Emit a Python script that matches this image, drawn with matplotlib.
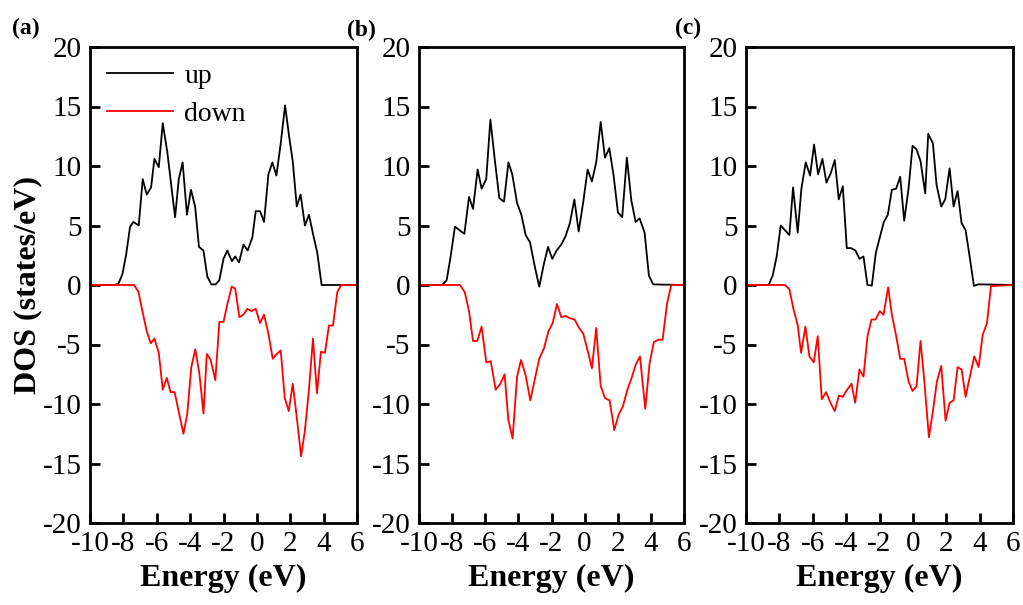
import numpy as np
import matplotlib
matplotlib.use('Agg')
import matplotlib.pyplot as plt

plt.rcParams['font.family'] = 'Liberation Serif'
plt.rcParams['axes.unicode_minus'] = False

# (a) spin up / spin down
a_up_x = [-10, -8.5, -8.3, -8.06, -7.84, -7.6, -7.4, -7.08, -6.84, -6.6, -6.34, -6.14, -5.88, -5.64,
          -5.36, -5.1, -4.9, -4.68, -4.45, -4.19, -3.95, -3.7, -3.47, -3.2, -2.97, -2.73, -2.47,
          -2.25, -2.0, -1.77, -1.5, -1.3, -1.07, -0.8, -0.55, -0.27, -0.07, 0.19, 0.43, 0.69, 0.93,
          1.17, 1.43, 1.69, 1.93, 2.15, 2.39, 2.62, 2.88, 3.12, 3.38, 3.62, 3.88, 6]
a_up_y = [0, 0, 0.1, 0.9, 2.5, 4.9, 5.3, 5.0, 8.9, 7.6, 8.2, 10.6, 9.9, 13.6,
          11.1, 8.0, 5.7, 8.9, 10.3, 5.9, 8.0, 6.6, 3.2, 2.9, 0.7, 0.05, 0.05,
          0.4, 2.2, 2.9, 2.0, 2.4, 1.9, 3.4, 2.9, 4.0, 6.2, 6.2, 5.3, 9.3, 10.3,
          9.2, 11.9, 15.1, 12.5, 10.4, 6.6, 7.6, 5.0, 5.9, 4.2, 2.7, 0.0, 0]
a_dn_x = [-10, -7.36, -7.1, -6.86, -6.6, -6.36, -6.14, -5.88, -5.64, -5.4, -5.17, -4.93, -4.69, -4.4,
          -4.17, -3.93, -3.69, -3.45, -3.2, -3.0, -2.77, -2.49, -2.25, -2.0, -1.75, -1.51, -1.3,
          -1.05, -0.81, -0.57, -0.33, -0.07, 0.19, 0.43, 0.69, 0.95, 1.19, 1.43, 1.67, 1.91, 2.15,
          2.39, 2.65, 2.88, 3.12, 3.36, 3.6, 3.84, 4.08, 4.32, 4.56, 4.82, 5.06, 6]
a_dn_y = [0, 0, -0.56, -2.2, -3.9, -4.9, -4.5, -5.7, -8.8, -7.8, -9.0, -9.0, -10.6, -12.5,
          -10.8, -6.9, -5.4, -7.4, -10.8, -5.8, -6.3, -8.0, -3.1, -3.1, -1.5, -0.14, -0.3,
          -2.7, -2.5, -2.0, -2.2, -2.0, -3.2, -2.5, -4.1, -6.2, -5.8, -5.5, -9.5, -10.6, -8.3,
          -11.1, -14.4, -12.2, -8.8, -4.5, -9.1, -5.6, -5.7, -3.4, -3.4, -0.6, 0, 0]

# (b)
b_up_x = [-10, -8.6, -8.33, -8.09, -7.83, -7.55, -7.26, -6.98, -6.74, -6.46, -6.22, -5.94, -5.69,
          -5.43, -5.15, -4.87, -4.6, -4.37, -4.08, -3.82, -3.56, -3.3, -3.0, -2.74, -2.47, -2.21,
          -1.95, -1.69, -1.41, -1.15, -0.89, -0.62, -0.36, -0.08, 0.18, 0.44, 0.7, 0.97, 1.23,
          1.49, 1.75, 2.01, 2.27, 2.55, 2.82, 3.08, 3.32, 3.62, 3.88, 4.14, 6]
b_up_y = [0, 0, 0.4, 2.4, 4.9, 4.6, 4.3, 7.4, 6.4, 9.7, 8.1, 8.9, 13.9,
          10.6, 7.3, 7.0, 10.3, 9.3, 6.9, 5.9, 4.2, 3.6, 1.5, -0.14, 1.7, 3.2,
          2.2, 2.9, 3.4, 4.1, 5.2, 7.2, 4.5, 7.0, 9.7, 8.7, 10.3, 13.7, 10.7,
          11.5, 9.2, 6.1, 5.7, 10.7, 7.1, 5.3, 5.6, 4.4, 0.8, 0.05, 0]
b_dn_x = [-10, -7.52, -7.24, -6.98, -6.74, -6.48, -6.22, -5.94, -5.67, -5.37, -5.09, -4.83, -4.61,
          -4.35, -4.08, -3.84, -3.56, -3.28, -3.02, -2.74, -2.45, -2.19, -1.93, -1.67, -1.41, -1.15,
          -0.89, -0.6, -0.34, -0.08, 0.18, 0.44, 0.7, 0.97, 1.23, 1.51, 1.79, 2.05, 2.31, 2.58,
          2.84, 3.08, 3.34, 3.66, 3.92, 4.18, 4.45, 4.71, 4.97, 5.23, 6]
b_dn_y = [0, 0, -0.6, -2.2, -4.7, -4.7, -3.5, -6.5, -6.4, -8.8, -8.3, -7.5, -11.3,
          -12.9, -7.7, -6.3, -7.6, -9.7, -8.0, -6.2, -5.3, -3.9, -3.2, -1.6, -2.7, -2.6,
          -2.8, -2.9, -3.6, -4.1, -5.5, -7.0, -3.6, -8.5, -9.5, -9.7, -12.2, -10.9, -10.2, -8.8,
          -7.8, -6.7, -6.0, -10.4, -6.6, -4.8, -4.6, -4.6, -1.6, 0, 0]

# (c)
c_up_x = [-10, -8.64, -8.4, -8.16, -7.92, -7.66, -7.4, -7.18, -6.9, -6.68, -6.42, -6.16, -5.92,
          -5.68, -5.42, -5.18, -4.92, -4.68, -4.44, -4.2, -3.96, -3.7, -3.44, -3.2, -2.96, -2.72,
          -2.46, -2.22, -1.98, -1.74, -1.5, -1.26, -1.0, -0.76, -0.52, -0.26, -0.02, 0.22, 0.46,
          0.74, 0.92, 1.2, 1.42, 1.7, 1.94, 2.2, 2.44, 2.68, 2.92, 3.16, 3.4, 3.66, 3.9, 4.16, 6]
c_up_y = [0, 0, 0.8, 2.4, 5.0, 4.6, 4.2, 8.2, 4.4, 8.1, 10.3, 9.2, 11.8,
          9.3, 10.6, 8.6, 9.4, 10.5, 7.2, 8.3, 3.1, 3.1, 2.9, 2.2, 2.4, 0.0,
          -0.05, 2.7, 4.0, 5.3, 5.9, 8.0, 8.1, 9.1, 5.4, 8.1, 11.7, 11.4, 10.4,
          7.7, 12.7, 11.9, 8.4, 6.6, 7.2, 9.8, 6.6, 7.9, 5.2, 4.6, 2.4, -0.08, 0.05, 0.05, 0]
c_dn_x = [-10, -7.66, -7.4, -7.16, -6.9, -6.7, -6.44, -6.2, -5.94, -5.7, -5.46, -5.2, -4.94,
          -4.68, -4.44, -4.2, -3.94, -3.68, -3.46, -3.2, -2.96, -2.72, -2.48, -2.24, -1.98, -1.76,
          -1.48, -1.26, -1.0, -0.76, -0.52, -0.26, -0.02, 0.22, 0.46, 0.7, 0.96, 1.2, 1.44, 1.7,
          1.96, 2.2, 2.44, 2.68, 2.92, 3.16, 3.4, 3.68, 3.94, 4.18, 4.44, 4.68, 6]
c_dn_y = [0, 0, -0.36, -2.0, -3.4, -5.7, -3.5, -6.0, -6.5, -4.3, -9.6, -9.0, -9.9,
          -10.6, -9.3, -9.4, -8.8, -8.3, -9.9, -7.1, -7.7, -4.3, -2.9, -2.9, -2.2, -2.5,
          -0.2, -2.5, -4.3, -6.2, -6.2, -8.1, -8.9, -8.5, -4.7, -8.3, -12.8, -10.6, -8.1, -6.8,
          -11.4, -9.9, -9.7, -6.9, -7.1, -9.4, -7.8, -6.0, -6.9, -4.2, -3.2, -0.1, 0]

panels = [
    ('(a)', a_up_x, a_up_y, a_dn_x, a_dn_y),
    ('(b)', b_up_x, b_up_y, b_dn_x, b_dn_y),
    ('(c)', c_up_x, c_up_y, c_dn_x, c_dn_y),
]

fig = plt.figure(figsize=(10.23, 6.05), dpi=100)
lefts = [90, 419, 746]
widths = [267, 265, 267]
tag_x = [26, 361, 688]
tag_y = [28, 30, 28]

for i, (tag, ux, uy, dx, dy) in enumerate(panels):
    ax = fig.add_axes([lefts[i] / 1023, 82 / 605, widths[i] / 1023, 476 / 605])
    ax.plot(ux, uy, color='black', lw=1.3, label='up')
    ax.plot(dx, dy, color='red', lw=1.3, label='down')
    ax.set_xlim(-10, 6)
    ax.set_ylim(-20, 20)
    ax.set_xticks(np.arange(-10, 7, 2))
    ax.set_yticks(np.arange(-20, 21, 5))
    ax.tick_params(direction='in', length=7, width=2, labelsize=21, pad=6)
    for s in ax.spines.values():
        s.set_linewidth(2)
    ax.set_xlabel('Energy (eV)', fontsize=23, fontweight='bold', labelpad=5)
    if i == 0:
        ax.set_ylabel('DOS (states/eV)', fontsize=23, fontweight='bold', labelpad=0)
        ax.legend(loc='upper left', frameon=False, fontsize=20, handlelength=2.4,
                  labelspacing=0.45, borderaxespad=0.2, handletextpad=0.4)
    fig.text(tag_x[i] / 1023, 1 - tag_y[i] / 605, tag, fontsize=17, fontweight='bold',
             va='center', ha='center')

fig.savefig('out.png', dpi=100)
